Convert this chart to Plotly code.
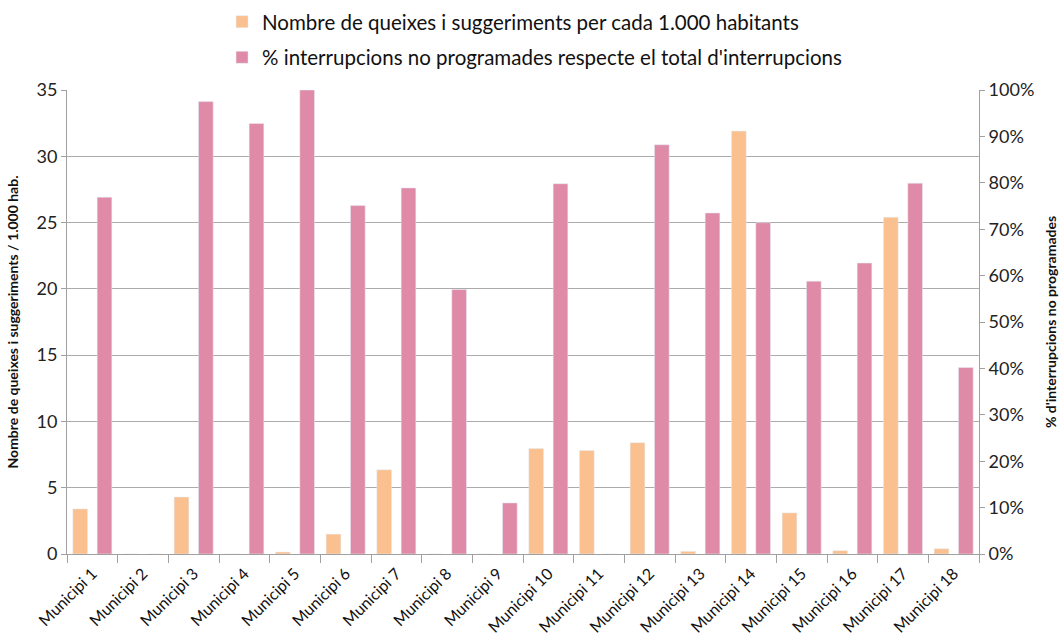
import plotly.graph_objects as go

categories = [f"Municipi {i}" for i in range(1, 19)]
queixes = [3.4, 0, 4.3, 0, 0.15, 1.5, 6.35, 0, 0, 7.95, 7.8, 8.4, 0.2, 31.9, 3.1, 0.25, 25.4, 0.4]
interrupcions = [0.769, 0, 0.975, 0.928, 1.0, 0.751, 0.789, 0.57, 0.11, 0.798, 0, 0.882,
                 0.735, 0.714, 0.588, 0.627, 0.799, 0.402]

name_q = "Nombre de queixes i suggeriments per cada 1.000 habitants"
name_i = "% interrupcions no programades respecte el total d'interrupcions"

FONT = "Lato"
GRID = "#ABABAB"
AX = "#A0A0A0"

fig = go.Figure()
fig.add_trace(go.Bar(x=categories, y=queixes, name=name_q, marker_color="#FAC090",
                     width=0.29, offset=-0.385, yaxis="y", legendgroup="a"))
fig.add_trace(go.Bar(x=categories, y=interrupcions, name=name_i, marker_color="#DF8BA8",
                     width=0.29, offset=0.095, yaxis="y2", legendgroup="b"))

fig.update_layout(
    width=1064, height=644,
    margin=dict(l=67, r=85, t=90, b=90, autoexpand=False),
    paper_bgcolor="white", plot_bgcolor="white",
    barmode="overlay",
    font=dict(family=FONT, color="#222222"),
    showlegend=True,
    legend=dict(orientation="v", x=0.17, xanchor="left", y=1.19, yanchor="top",
                font=dict(size=20.5, family=FONT, color="#111111"),
                itemwidth=30, tracegroupgap=6, bgcolor="rgba(0,0,0,0)"),
    xaxis=dict(type="category", tickangle=-45, tickson="boundaries", ticks="outside",
               ticklen=8, tickcolor=AX, showline=True, linecolor=AX, automargin=False,
               ticklabelstandoff=3,
               linewidth=1, showgrid=False, tickfont=dict(size=16, family=FONT, color="#111111")),
    yaxis=dict(range=[0, 35], dtick=5, ticks="outside", ticklen=5, tickcolor=AX,
               showline=True, linecolor=AX, showgrid=True, gridcolor=GRID, automargin=False,
               zeroline=False, tickfont=dict(size=18, family=FONT, color="#222222"),
               title=dict(text="<b>Nombre de queixes i suggeriments / 1.000 hab.</b>",
                          font=dict(size=14, family=FONT, color="#111111"), standoff=14)),
    yaxis2=dict(range=[0, 1], dtick=0.1, tickformat=".0%", overlaying="y", side="right",
                ticks="outside", ticklen=5, tickcolor=AX, showline=True, automargin=False,
                linecolor=AX, showgrid=False, zeroline=False,
                tickfont=dict(size=18, family=FONT, color="#222222"),
                title=dict(text="<b>% d'interrupcions no programades</b>",
                           font=dict(size=14, family=FONT, color="#111111"), standoff=12)),
)

fig.write_html("out.html", config={"displayModeBar": False},
               post_script="document.body.style.margin='0';document.body.style.overflow='hidden';")
